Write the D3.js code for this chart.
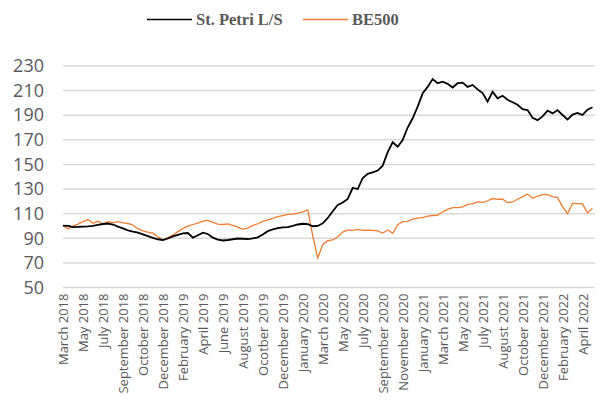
<!DOCTYPE html>
<html>
<head>
<meta charset="utf-8">
<script src="https://cdn.jsdelivr.net/npm/d3@7"></script>
<style>
  body { margin: 0; background: #fff; }
</style>
</head>
<body>
<div id="chart"></div>
<script>
  // tick labels on the category axis (one every 4 sample points)
  var monthLabels = ['March 2018','May 2018','July 2018','September 2018','October 2018',
    'December 2018','February 2019','April 2019','June 2019','August 2019','Ocotber 2019',
    'December 2019','January 2020','March 2020','May 2020','July 2020','September 2020',
    'November 2020','January 2021','March 2021','May 2021','July 2021','August 2021',
    'October 2021','December 2021','February 2022','April 2022'];
  var labelStep = 4;

  var yTicks = [50,70,90,110,130,150,170,190,210,230];

  var stPetri = [100.2,100,99,99.2,99.4,99.6,100,100.8,101.6,102,101.2,99.5,98,96.5,95.4,94.5,
    93.2,91.8,90.3,89.2,88.6,89.8,91.5,92.8,94,94.3,90.5,92.5,94.6,93.5,90.5,89,88.2,88.6,
    89.2,89.8,89.6,89.4,90,90.8,93,95.8,97.3,98.3,98.9,99,100,101.2,101.8,101.5,99.8,100,
    102.2,106.5,112,117,119,122,131,130,139,142.3,143.5,145,149,160,168,164.4,169.9,180,
    187.5,197,207.8,213,219.4,216,217.3,215.5,212.5,216,216.5,213,214.6,211,208,201,209.2,
    203.8,205.8,202.6,200.5,198.5,195,194.2,188,186,189,193.8,191.5,194.2,190.2,186.5,190.5,
    191.8,190.2,194.5,196.5];

  var be500 = [100.5,97.5,100,101.5,103.5,105.2,102.2,103.8,101.6,103.5,102.7,103.5,102.6,102,
    100.8,97.8,96,95,94.2,91.3,88.6,90.5,92.5,95.4,98,99.8,101.2,102.4,104,104.5,103,101.5,
    101.2,101.7,100.5,99,97.3,98.5,100.5,101.8,103.8,105,106.2,107.5,108.5,109.5,109.7,110.5,
    111.5,113,92,74,85,88,88.6,91.3,95,96.8,96.5,97.3,96.5,96.7,96.5,96,94.2,96.8,94,101,
    103.5,103.8,105.5,106.3,106.7,108,108.5,108.6,111.5,113.5,114.9,114.9,115.5,117.5,118,
    119.5,119.2,120.5,122.3,121.7,121.7,119,119.5,121.7,123.8,126,122.5,124.2,125.5,125.5,
    123.8,123,115.7,110,118.4,118.2,117.9,110.5,114.5];

  var width = 600;
  var height = 405;
  var margin = {left: 63, right: 5, top: 66, bottom: 117.5};

  var svg = d3.select('#chart').append('svg')
              .attr('width', width)
              .attr('height', height);

  var x = d3.scaleLinear()
            .domain([0, 106.5])
            .range([margin.left, width - margin.right]);

  var y = d3.scaleLinear()
            .domain([50, 230])
            .range([height - margin.bottom, margin.top]);

  // horizontal gridlines
  svg.append('g').selectAll('line').data(yTicks)
    .enter().append('line')
    .attr('x1', x.range()[0])
    .attr('x2', x.range()[1])
    .attr('y1', function(d){ return y(d); })
    .attr('y2', function(d){ return y(d); })
    .attr('stroke', '#d9d9d9')
    .attr('stroke-width', 1.5);

  // y axis labels
  var yAxis = d3.axisLeft(y).tickValues(yTicks).tickSize(0).tickPadding(0);
  var gy = svg.append('g')
    .attr('transform', 'translate(44,0)')
    .call(yAxis);
  gy.select('.domain').remove();
  gy.selectAll('text')
    .attr('font-family', '"Open Sans", sans-serif')
    .attr('font-size', 18)
    .attr('fill', '#595959');

  // x axis labels, rotated
  var labelIdx = monthLabels.map(function(d, i){ return i * labelStep; });
  var xAxis = d3.axisBottom(x).tickValues(labelIdx)
    .tickFormat(function(d, i){ return monthLabels[i]; })
    .tickSize(0).tickPadding(0);
  var gx = svg.append('g')
    .attr('transform', 'translate(0,' + (height - margin.bottom) + ')')
    .call(xAxis);
  gx.select('.domain').remove();
  gx.selectAll('text')
    .attr('font-family', '"Open Sans", sans-serif')
    .attr('font-size', 13)
    .attr('fill', '#595959')
    .attr('text-anchor', 'end')
    .attr('transform', 'translate(0,6) rotate(-90)')
    .attr('x', 0)
    .attr('y', 0)
    .attr('dy', '0.35em');

  var line = d3.line()
    .x(function(d, i){ return x(i); })
    .y(function(d){ return y(d); });

  svg.append('path').datum(be500)
    .attr('d', line)
    .attr('fill', 'none')
    .attr('stroke', '#ed7d31')
    .attr('stroke-width', 1.3);

  svg.append('path').datum(stPetri)
    .attr('d', line)
    .attr('fill', 'none')
    .attr('stroke', '#000')
    .attr('stroke-width', 1.8);

  // legend on top
  var legend = [
    {name: 'St. Petri L/S', color: '#000', x: 147},
    {name: 'BE500', color: '#ed7d31', x: 303}
  ];
  var lg = svg.append('g').selectAll('g').data(legend)
    .enter().append('g')
    .attr('transform', function(d){ return 'translate(' + d.x + ',19.5)'; });
  lg.append('line')
    .attr('x1', 0).attr('x2', 45)
    .attr('stroke', function(d){ return d.color; })
    .attr('stroke-width', 1.7);
  lg.append('text')
    .attr('x', 49)
    .attr('dy', '0.35em')
    .attr('font-family', '"Liberation Serif", "Times New Roman", serif')
    .attr('font-weight', 'bold')
    .attr('font-size', 16.5)
    .attr('fill', '#595959')
    .text(function(d){ return d.name; });
</script>
</body>
</html>
